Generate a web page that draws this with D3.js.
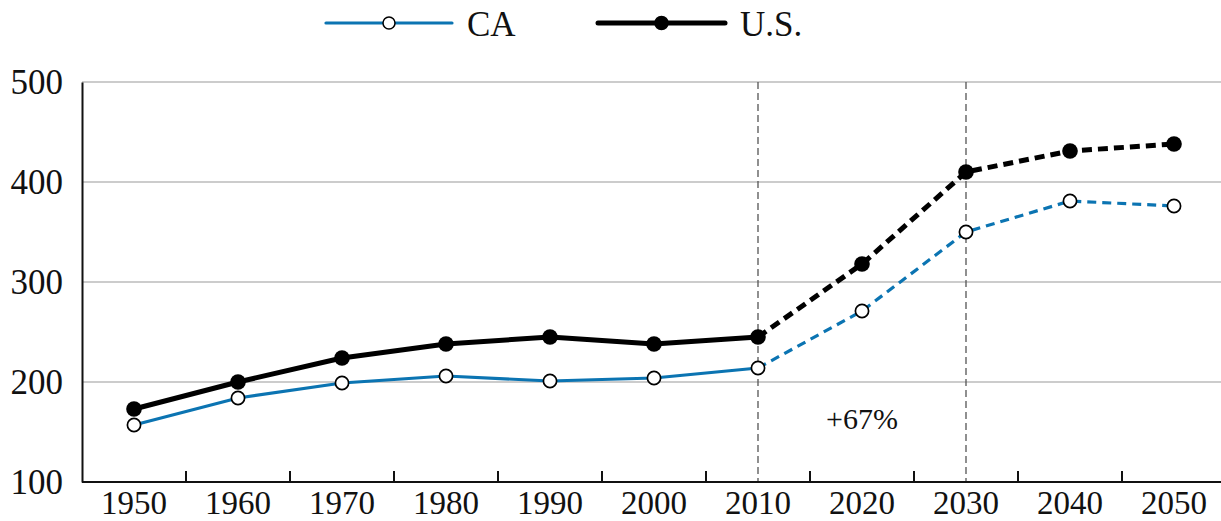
<!DOCTYPE html>
<html><head><meta charset="utf-8">
<script src="https://cdn.jsdelivr.net/npm/d3@7"></script>
<style>body{margin:0;background:#fff;} svg{display:block;}</style>
</head><body>
<svg id="c" width="1221" height="521"></svg>
<script>
const years = ["1950","1960","1970","1980","1990","2000","2010","2020","2030","2040","2050"];
const caValues = [157,184,199,206,201,204,214,271,350,381,376];
const usValues = [173,200,224,238,245,238,245,318,410,431,438];
const yTicks = [100,200,300,400,500];
const gridTicks = [200,300,400,500];
const markerYears = ["2010","2030"];
const projectionStart = "2010";
const annotation = "+67%";
const seriesNames = ["CA","U.S."];

(function(){
const FONT = "'Liberation Serif', 'DejaVu Serif', serif";
const svg = d3.select("#c");
const mLeft = 82, mRight = 1226, mTop = 82, mBottom = 482;
const x = d3.scaleBand().domain(years).range([mLeft, mRight]);
const y = d3.scaleLinear().domain([100,500]).range([mBottom, mTop]);
const cx = d => x(d) + x.bandwidth()/2;

// grid
svg.append("g").selectAll("line").data(gridTicks).join("line")
  .attr("x1", mLeft).attr("x2", 1221).attr("y1", d=>y(d)).attr("y2", d=>y(d))
  .attr("stroke","#9a9a9a").attr("stroke-width",1.2);

// vertical dashed markers
svg.append("g").selectAll("line").data(markerYears).join("line")
  .attr("x1", d=>cx(d)).attr("x2", d=>cx(d)).attr("y1", mTop).attr("y2", mBottom)
  .attr("stroke","#555").attr("stroke-width",1.3).attr("stroke-dasharray","7,4");

// y axis
const yAxis = svg.append("g").attr("transform",`translate(${mLeft},0)`)
  .call(d3.axisLeft(y).tickValues(yTicks).tickSize(0).tickPadding(19));
yAxis.attr("font-family", FONT);
yAxis.select(".domain").attr("stroke","#111").attr("stroke-width",2);
yAxis.selectAll("text").attr("font-family", FONT).style("font-size","35px").attr("fill","#111").attr("dy","0.33em");

// x axis
const xAxis = svg.append("g").attr("transform",`translate(0,${mBottom})`)
  .call(d3.axisBottom(x).tickSize(0).tickPadding(0));
xAxis.attr("font-family", FONT);
xAxis.select(".domain").attr("stroke","#111").attr("stroke-width",2).attr("d",`M${mLeft},0H1221`);
xAxis.selectAll("text").attr("font-family", FONT).style("font-size","33px").attr("fill","#111")
  .attr("y", 32).attr("dy", null);
// boundary ticks between bands
svg.append("g").selectAll("line").data(years).join("line")
  .attr("x1", d=>x(d) + x.bandwidth()).attr("x2", d=>x(d) + x.bandwidth())
  .attr("y1", mBottom).attr("y2", mBottom-11).attr("stroke","#111").attr("stroke-width",2);

const idx = years.indexOf(projectionStart);
const line = d3.line().x(d=>cx(d.year)).y(d=>y(d.v));
function series(vals, color, width, dash){
  const pts = years.map((yr,i)=>({year:yr, v:vals[i]}));
  svg.append("path").datum(pts.slice(0, idx+1)).attr("d", line)
    .attr("fill","none").attr("stroke",color).attr("stroke-width",width).attr("stroke-linejoin","round");
  svg.append("path").datum(pts.slice(idx)).attr("d", line)
    .attr("fill","none").attr("stroke",color).attr("stroke-width",width).attr("stroke-dasharray",dash);
  return pts;
}
const caPts = series(caValues, "#0b74b2", 3.2, "9,6");
const usPts = series(usValues, "#000", 5, "10,6");

svg.append("g").selectAll("circle").data(caPts).join("circle")
  .attr("cx", d=>cx(d.year)).attr("cy", d=>y(d.v)).attr("r",6.6)
  .attr("fill","#fff").attr("stroke","#000").attr("stroke-width",1.7);
svg.append("g").selectAll("circle").data(usPts).join("circle")
  .attr("cx", d=>cx(d.year)).attr("cy", d=>y(d.v)).attr("r",7.8)
  .attr("fill","#000");

// annotation
svg.append("text").attr("x", (cx("2010")+cx("2030"))/2).attr("y", 429)
  .attr("text-anchor","middle").attr("font-family", FONT).attr("fill","#111")
  .style("font-size","30px").text(annotation);

// legend
const lg = svg.append("g");
const legendItems = [
  {name:seriesNames[0], x0:326, x1:452, color:"#0b74b2", w:3.2, fill:"#fff", r:6},
  {name:seriesNames[1], x0:598, x1:725, color:"#000", w:5, fill:"#000", r:6.5}
];
legendItems.forEach(it=>{
  lg.append("line").attr("x1",it.x0).attr("x2",it.x1).attr("y1",23).attr("y2",23)
    .attr("stroke",it.color).attr("stroke-width",it.w).attr("stroke-linecap","round");
  lg.append("circle").attr("cx",(it.x0+it.x1)/2).attr("cy",23).attr("r",it.r)
    .attr("fill",it.fill).attr("stroke","#000").attr("stroke-width",1.5);
  lg.append("text").attr("x",it.x1+15).attr("y",36)
    .attr("font-family", FONT).attr("fill","#111")
    .style("font-size","35px").text(it.name);
});
})();
</script>
</body></html>
